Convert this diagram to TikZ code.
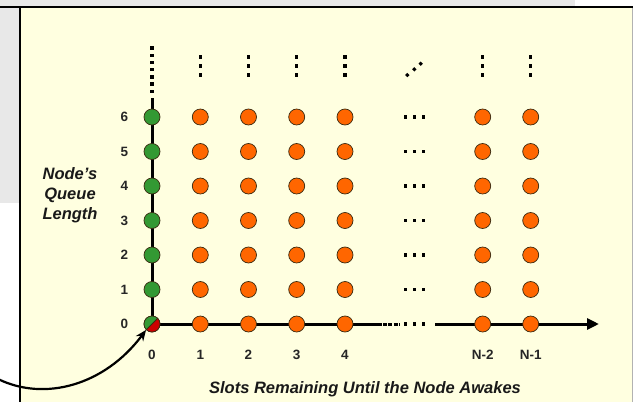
\documentclass[tikz,border=0pt]{standalone}
\usepackage{fontspec}
\setmainfont{Liberation Sans}
\usetikzlibrary{arrows.meta}
\definecolor{bggray}{HTML}{E8E8E8}
\definecolor{paper}{HTML}{FFFFE0}
\definecolor{orng}{HTML}{FF6600}
\definecolor{grn}{HTML}{339933}
\definecolor{rd}{HTML}{CC0000}
\definecolor{rim}{HTML}{3A2A10}
\tikzset{
  state/.style={circle,minimum size=16pt,inner sep=0pt,draw=rim,line width=0.7pt},
  ostate/.style={state,fill=orng},
  gstate/.style={state,fill=grn},
  numlbl/.style={font=\fontsize{13.5}{14}\selectfont\bfseries,text=black!85},
  axislbl/.style={font=\fontsize{16.5}{20}\selectfont\bfseries\itshape,align=center,text=black!90},
  axisline/.style={line width=3pt,black},
}
\newcommand{\sqdot}[2]{\fill[black] (#1-1.7,#2-1.7) rectangle (#1+1.7,#2+1.7);}
\newcommand{\rotdot}[2]{\fill[black] (#1,#2-2.2) -- (#1+2.2,#2) -- (#1,#2+2.2) -- (#1-2.2,#2) -- cycle;}
\begin{document}
\begin{tikzpicture}[x=1pt,y=-1pt]
\useasboundingbox (0,0) rectangle (633,402);
% background
\fill[white] (0,0) rectangle (633,402);
\fill[bggray] (0,0) rectangle (575,202.5);
\fill[paper] (20,7) rectangle (633,404);
\draw[line width=2.5pt] (0,7.2) -- (633,7.2);
\draw[line width=2pt] (20,7) -- (20,404);
\draw[line width=0.8pt,black!30] (632.3,8) -- (632.3,404);

% axes
\coordinate (vtop) at (152,98);
\coordinate (xa) at (378,324);
\coordinate (xb) at (400,324);
\coordinate (xc) at (435,324);
\coordinate (xend) at (599,324);
\draw[axisline] (152,324) -- (vtop);
\draw[axisline] (152,324) -- (xa);
\draw[line width=3pt,dash pattern=on 4pt off 1.2pt] (xa) -- (xb);
\draw[axisline,-{Triangle[length=12pt,width=11pt]}] (xc) -- (xend);
\foreach \k in {0,...,6} {\sqdot{152}{48+7.2*\k}}

% column continuation dots
\foreach \x in {200.3,248.5,296.7,345,482.7,530.7} {
  \sqdot{\x}{57}\sqdot{\x}{66}\sqdot{\x}{75}
}
\rotdot{407.3}{75}\rotdot{414.3}{69.3}\rotdot{420.7}{63.7}

% row dots
\foreach \r in {0,...,6} {
  \pgfmathsetmacro{\yy}{324-34.5*\r}
  \sqdot{405.5}{\yy}\sqdot{414.3}{\yy}\sqdot{423.2}{\yy}
}

% states
\foreach \r in {1,...,6} {
  \pgfmathsetmacro{\yy}{324-34.5*\r}
  \node[gstate] (s0-\r) at (152,\yy) {};
}
\foreach \c/\x in {1/200.3,2/248.5,3/296.7,4/345,n2/482.7,n1/530.7} {
  \foreach \r in {0,...,6} {
    \pgfmathsetmacro{\yy}{324-34.5*\r}
    \node[ostate] (s\c-\r) at (\x,\yy) {};
  }
}
% origin split state
\node[state] (s0-0) at (152,324) {};
\begin{scope}
  \clip (152,324) circle (8pt);
  \fill[grn] (140,336) -- (164,312) -- (140,312) -- cycle;
  \fill[rd] (140,336) -- (164,312) -- (164,336) -- cycle;
  \draw[rim,line width=0.8pt] (140,336) -- (164,312);
\end{scope}
\draw[rim,line width=0.7pt] (152,324) circle (8pt);

% row labels
\foreach \r in {0,...,6} {
  \pgfmathsetmacro{\yy}{324-34.5*\r}
  \node[numlbl] (r\r) at (124.5,\yy) {\r};
}
% column labels
\foreach \c/\x/\t in {0/152/0,1/200.3/1,2/248.5/2,3/296.7/3,4/345/4,n2/482.7/N-2,n1/530.7/N-1} {
  \node[numlbl] (c\c) at (\x,355) {\t};
}

\node[axislbl] (ylab) at (70,195) {Node’s\\Queue\\Length};
\node[axislbl] (xlab) at (365,389) {Slots Remaining Until the Node Awakes};

% curved pointer
\coordinate (pstart) at (-2,379);
\draw[line width=2.2pt,-{Stealth[length=11pt,width=9pt]}] (pstart) .. controls (45,402) and (105,385) .. (s0-0.225);
\end{tikzpicture}
\end{document}
